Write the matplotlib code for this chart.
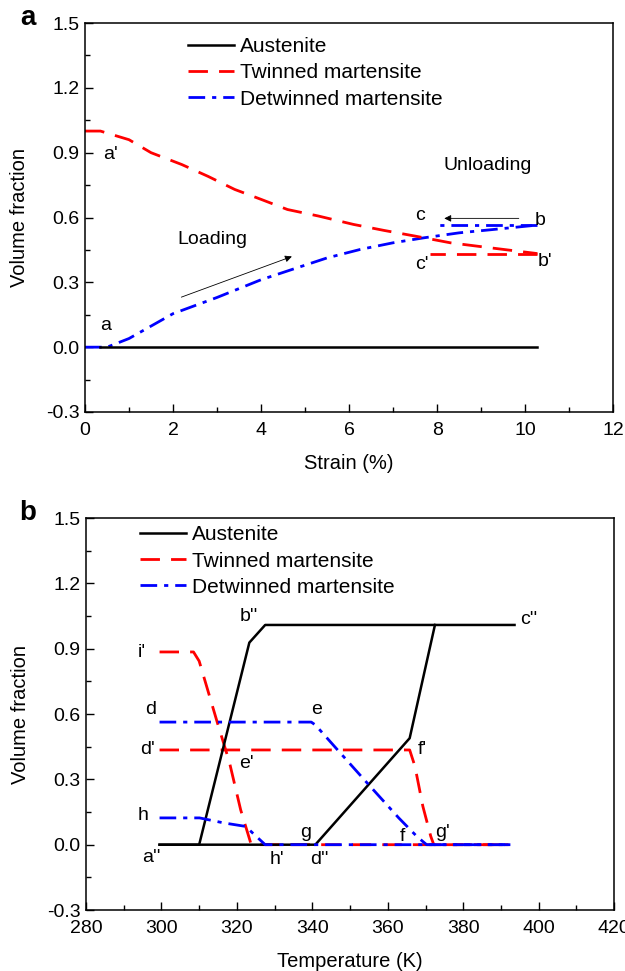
import numpy as np
import matplotlib
matplotlib.use("Agg")
import matplotlib.pyplot as plt
from matplotlib.ticker import MultipleLocator

plt.rcParams['font.family'] = ['Liberation Sans', 'DejaVu Sans']

## Data panel a (strain %, volume fraction):
a_aus_x = [0.35, 10.28]
a_aus_y = [0.0, 0.0]
a_twin_x = [0.0, 0.35, 1.0, 1.5, 2.2, 2.8, 3.4, 4.0, 4.6, 5.3, 6.1, 6.8, 7.5, 8.3, 9.2, 10.28]
a_twin_y = [1.0, 1.0, 0.96, 0.90, 0.845, 0.79, 0.73, 0.684, 0.637, 0.607, 0.568, 0.54, 0.514, 0.483, 0.46, 0.433]
a_twin_unload_x = [10.28, 7.85]
a_twin_unload_y = [0.433, 0.433]
a_det_x = [0.0, 0.5, 1.0, 2.0, 3.0, 4.0, 4.8, 5.5, 6.25, 7.0, 7.7, 8.5, 9.3, 10.28]
a_det_y = [0.0, 0.0, 0.04, 0.155, 0.23, 0.312, 0.366, 0.413, 0.452, 0.483, 0.506, 0.529, 0.545, 0.565]
a_det_unload_x = [10.28, 7.9]
a_det_unload_y = [0.565, 0.565]

a_labels = ["a'", "a", "c", "b", "c'", "b'"]
a_label_x = [0.59, 0.47, 7.61, 10.33, 7.65, 10.46]
a_label_y = [0.89, 0.10, 0.611, 0.588, 0.382, 0.397]

## Data panel b (temperature K, volume fraction):
b_aus1_x = [299.5, 310.0, 323.3, 327.5, 393.6]
b_aus1_y = [0.0, 0.0, 0.928, 1.009, 1.009]
b_aus2_x = [299.5, 340.8, 365.8, 372.5]
b_aus2_y = [0.0, 0.0, 0.489, 1.009]
b_twin1_x = [299.5, 308.5, 310.0, 315.0, 318.0, 321.0, 323.8, 392.0]
b_twin1_y = [0.885, 0.885, 0.843, 0.55, 0.38, 0.16, 0.0, 0.0]
b_twin2_x = [299.5, 365.8, 367.2, 369.3, 371.4, 372.2, 392.0]
b_twin2_y = [0.435, 0.435, 0.36, 0.176, 0.038, 0.0, 0.0]
b_det1_x = [299.5, 339.7, 340.8, 346.6, 354.5, 362.9, 367.7, 370.3, 392.5]
b_det1_y = [0.563, 0.563, 0.55, 0.437, 0.284, 0.123, 0.038, 0.0, 0.0]
b_det2_x = [299.5, 310.1, 316.5, 322.3, 327.5, 392.5]
b_det2_y = [0.123, 0.123, 0.10, 0.084, 0.0, 0.0]

b_labels = ["b''", "c''", "i'", "d", "e", "d'", "f'", "e'", "h", "g", "f", "g'", "a''", "h'", "d''"]
b_label_x = [323.3, 397.3, 294.8, 297.2, 341.0, 296.2, 369.1, 322.5, 295.1, 338.1, 364.0, 374.4, 297.4, 330.5, 341.8]
b_label_y = [1.05, 1.032, 0.882, 0.623, 0.623, 0.435, 0.435, 0.374, 0.133, 0.054, 0.038, 0.057, -0.061, -0.066, -0.066]

## Styles:
red_dash = (0, (7, 4))
blue_dd = (0, (6, 2.5, 1.5, 2.5))
fs_tick = 14
fs_lab = 14.5
fs_leg = 15
fs_ann = 14

fig = plt.figure(figsize=(6.25, 9.71), dpi=100)
ax1 = fig.add_axes([0.136, 0.5757, 0.845, 0.4006])
ax2 = fig.add_axes([0.1376, 0.0628, 0.845, 0.4037])


def style_axis(ax, xlim, xmaj, xmin, xlabel):
    ax.set_xlim(*xlim)
    ax.set_ylim(-0.3, 1.5)
    ax.xaxis.set_major_locator(MultipleLocator(xmaj))
    ax.xaxis.set_minor_locator(MultipleLocator(xmin))
    ax.yaxis.set_major_locator(MultipleLocator(0.3))
    ax.yaxis.set_minor_locator(MultipleLocator(0.15))
    ax.yaxis.set_major_formatter(plt.FormatStrFormatter('%.1f'))
    ax.tick_params(which='both', direction='in', top=False, right=False, labelsize=fs_tick, width=1)
    ax.tick_params(which='major', length=6)
    ax.tick_params(which='minor', length=3.5)
    ax.tick_params(axis='x', pad=7)
    ax.tick_params(axis='y', pad=4)
    for s in ax.spines.values():
        s.set_linewidth(1.1)
    ax.set_xlabel(xlabel, fontsize=fs_lab, labelpad=11)
    ax.set_ylabel('Volume fraction', fontsize=fs_lab, labelpad=12)


## Panel a
ax1.plot(a_det_x, a_det_y, color='blue', lw=2, ls=blue_dd, label='Detwinned martensite', zorder=2)
ax1.plot(a_det_unload_x, a_det_unload_y, color='blue', lw=2, ls=blue_dd, zorder=2)
ax1.plot(a_twin_x, a_twin_y, color='red', lw=2, ls=red_dash, label='Twinned martensite', zorder=2)
ax1.plot(a_twin_unload_x, a_twin_unload_y, color='red', lw=2, ls=red_dash, zorder=2)
ax1.plot(a_aus_x, a_aus_y, color='black', lw=1.8, label='Austenite', zorder=3)
for t, x, y in zip(a_labels, a_label_x, a_label_y):
    ax1.text(x, y, t, fontsize=fs_ann, ha='center', va='center')
ax1.text(2.9, 0.50, 'Loading', fontsize=fs_ann, ha='center', va='center')
ax1.text(9.15, 0.839, 'Unloading', fontsize=fs_ann, ha='center', va='center')
ax1.annotate('', xy=(4.76, 0.424), xytext=(2.13, 0.227),
             arrowprops=dict(arrowstyle='-|>', color='black', lw=0.6, mutation_scale=10))
ax1.annotate('', xy=(8.1, 0.596), xytext=(9.92, 0.596),
             arrowprops=dict(arrowstyle='-|>', color='black', lw=0.6, mutation_scale=10))
style_axis(ax1, (0, 12), 2, 1, 'Strain (%)')

h, l = ax1.get_legend_handles_labels()
ax1.legend(h[::-1], l[::-1], loc='upper left', bbox_to_anchor=(0.195, 0.963), frameon=False,
           fontsize=fs_leg, handlelength=2.2, handletextpad=0.3, labelspacing=0.34,
           borderpad=0, borderaxespad=0)

## Panel b
ax2.plot(b_twin1_x, b_twin1_y, color='red', lw=2, ls=red_dash, label='Twinned martensite', zorder=2)
ax2.plot(b_twin2_x, b_twin2_y, color='red', lw=2, ls=red_dash, zorder=2)
ax2.plot(b_aus1_x, b_aus1_y, color='black', lw=1.8, label='Austenite', zorder=3)
ax2.plot(b_aus2_x, b_aus2_y, color='black', lw=1.8, zorder=3)
ax2.plot(b_det1_x, b_det1_y, color='blue', lw=2, ls=blue_dd, label='Detwinned martensite', zorder=4)
ax2.plot(b_det2_x, b_det2_y, color='blue', lw=2, ls=blue_dd, zorder=4)
for t, x, y in zip(b_labels, b_label_x, b_label_y):
    ax2.text(x, y, t, fontsize=fs_ann, ha='center', va='center')
style_axis(ax2, (280, 420), 20, 10, 'Temperature (K)')

h, l = ax2.get_legend_handles_labels()
order = [1, 0, 2]
ax2.legend([h[i] for i in order], [l[i] for i in order], loc='upper left', bbox_to_anchor=(0.102, 0.981),
           frameon=False, fontsize=fs_leg, handlelength=2.2, handletextpad=0.3, labelspacing=0.34,
           borderpad=0, borderaxespad=0)

fig.text(0.045, 0.981, 'a', fontsize=20, fontweight='bold', ha='center', va='center')
fig.text(0.045, 0.4717, 'b', fontsize=20, fontweight='bold', ha='center', va='center')

fig.savefig('out.png', dpi=100)
